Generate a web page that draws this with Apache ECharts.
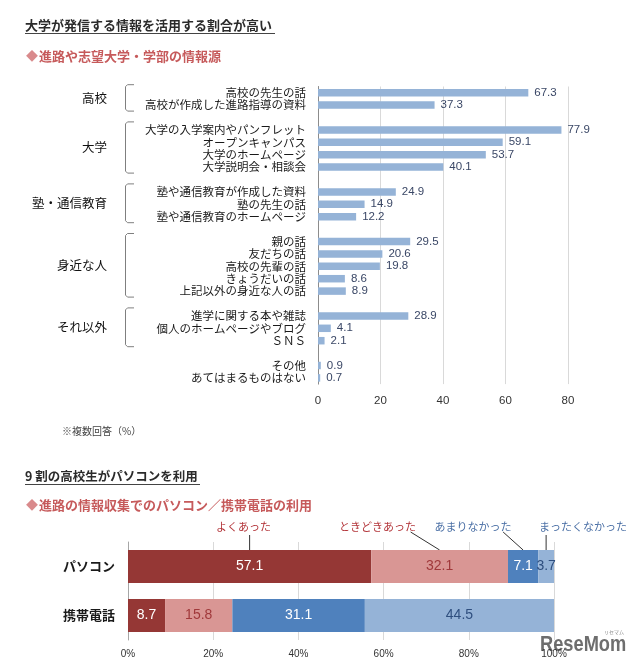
<!DOCTYPE html>
<html>
<head>
<meta charset="utf-8">
<script src="https://cdn.jsdelivr.net/npm/echarts@6/dist/echarts.min.js"></script>
<style>html,body{margin:0;padding:0;background:#fff;}#c{width:640px;height:669px;}</style>
</head>
<body>
<div id="c"></div>
<script>
// ---- Data: information sources (%) ----
const sourceCategories = ['高校の先生の話','高校が作成した進路指導の資料',' ',
  '大学の入学案内やパンフレット','オープンキャンパス','大学のホームページ','大学説明会・相談会','  ',
  '塾や通信教育が作成した資料','塾の先生の話','塾や通信教育のホームページ','   ',
  '親の話','友だちの話','高校の先輩の話','きょうだいの話','上記以外の身近な人の話','    ',
  '進学に関する本や雑誌','個人のホームページやブログ','ＳＮＳ','     ',
  'その他','あてはまるものはない'];
const sourceValues = [67.3,37.3,null,77.9,59.1,53.7,40.1,null,24.9,14.9,12.2,null,
  29.5,20.6,19.8,8.6,8.9,null,28.9,4.1,2.1,null,0.9,0.7];
const groupNames = ['高校','大学','塾・通信教育','身近な人','それ以外'];
const groupFirst = [0,3,8,12,18];
const groupLast = [1,6,10,16,20];
const sourceTicks = [0,20,40,60,80];

// ---- Data: PC / mobile usage (%) ----
const deviceCategories = ['パソコン','携帯電話'];
const usageNames = ['よくあった','ときどきあった','あまりなかった','まったくなかった'];
const usageOften = [57.1, 8.7];
const usageSometimes = [32.1, 15.8];
const usageRarely = [7.1, 31.1];
const usageNever = [3.7, 44.5];
const usageTicks = ['0%','20%','40%','60%','80%','100%'];

const JP = '"Noto Sans CJK JP", sans-serif';
const NUM = '"Liberation Sans", Arial, sans-serif';

const usageData = [usageOften, usageSometimes, usageRarely, usageNever];
const usageColors = ['#953735','#d99694','#4f81bd','#95b3d7'];
const usageLabelColors = ['#ffffff','#a0393b','#ffffff','#2f4f7f'];

const chart = echarts.init(document.getElementById('c'));

chart.setOption({
  animation: false,
  backgroundColor: '#fff',
  grid: [
    {left: 318, top: 86.5, width: 250, height: 297.6},
    {left: 128, top: 542, width: 426, height: 98}
  ],
  xAxis: [
    {gridIndex: 0, type: 'value', min: 0, max: 80, interval: 20,
      axisLine: {show: false}, axisTick: {show: false},
      splitLine: {lineStyle: {color: '#d9d9d9'}},
      axisLabel: {fontSize: 11.5, color: '#333', margin: 11, fontFamily: NUM,
        formatter: v => sourceTicks.indexOf(v) >= 0 ? String(v) : ''}},
    {gridIndex: 1, type: 'value', min: 0, max: 100, interval: 20,
      axisLine: {show: false}, axisTick: {show: false},
      splitLine: {lineStyle: {color: '#d9d9d9'}},
      axisLabel: {fontSize: 10, color: '#333', margin: 9, fontFamily: NUM,
        formatter: v => usageTicks[v / 20]}}
  ],
  yAxis: [
    {gridIndex: 0, type: 'category', data: sourceCategories, inverse: true,
      axisLine: {lineStyle: {color: '#8c8c8c'}}, axisTick: {show: false},
      axisLabel: {fontSize: 11.5, color: '#1a1a1a', margin: 12, fontFamily: JP, interval: 0}},
    {gridIndex: 1, type: 'category', data: deviceCategories, inverse: true,
      axisLine: {lineStyle: {color: '#a6a6a6'}}, axisTick: {show: false},
      axisLabel: {fontSize: 13, color: '#1a1a1a', margin: 13, fontFamily: JP, fontWeight: 'bold'}}
  ],
  series: [
    {type: 'bar', xAxisIndex: 0, yAxisIndex: 0, data: sourceValues, barWidth: 7.5,
      itemStyle: {color: '#95b3d7'},
      label: {show: true, position: 'right', distance: 6, fontSize: 11.5, color: '#3a4766', fontFamily: NUM,
        formatter: p => p.value == null ? '' : p.value.toFixed(1)}}
  ].concat(usageNames.map((n, i) => ({
    type: 'bar', name: n, stack: 'u', xAxisIndex: 1, yAxisIndex: 1, data: usageData[i], barWidth: 33,
    itemStyle: {color: usageColors[i]},
    label: {show: true, position: 'inside', fontSize: 14, color: usageLabelColors[i], fontFamily: NUM,
      formatter: p => p.value.toFixed(1)}
  })))
});

// ---- Decorations computed from the axes ----
const g = [];
function txt(x, y, s, o, extra) {
  g.push(Object.assign({type: 'text', x: x, y: y,
    style: Object.assign({text: s, fontFamily: JP, fontSize: 13, fill: '#222', textVerticalAlign: 'middle'}, o || {})}, extra || {}));
}
function line(x1, y1, x2, y2, c, w) {
  g.push({type: 'line', shape: {x1: x1, y1: y1, x2: x2, y2: y2}, style: {stroke: c || '#333', lineWidth: w || 1}});
}

// titles
txt(25, 25, '大学が発信する情報を活用する割合が高い', {fontWeight: 'bold', fill: '#2b2b2b'});
line(25, 33.5, 275, 33.5, '#444', 1);
txt(26, 56, '◆', {fill: '#d98a8c', fontSize: 12});
txt(39, 56, '進路や志望大学・学部の情報源', {fontWeight: 'bold', fill: '#c65a5b'});
txt(62, 431, '※複数回答（%）', {fontSize: 10, fill: '#444'});

txt(25, 476, '9 割の高校生がパソコンを利用', {fontWeight: 'bold', fill: '#2b2b2b', fontSize: 12.5});
line(25, 484.5, 200, 484.5, '#444', 1);
txt(26, 505, '◆', {fill: '#d98a8c', fontSize: 12});
txt(39, 505, '進路の情報収集でのパソコン／携帯電話の利用', {fontWeight: 'bold', fill: '#c65a5b'});

// group brackets and labels
groupNames.forEach((name, i) => {
  const y1 = chart.convertToPixel({yAxisIndex: 0}, sourceCategories[groupFirst[i]]);
  const y2 = chart.convertToPixel({yAxisIndex: 0}, sourceCategories[groupLast[i]]);
  const top = y1 - 8, bot = y2 + 6;
  g.push({type: 'polyline', shape: {points: [[134, top], [127.5, top], [125.5, top + 2], [125.5, bot - 2], [127.5, bot], [134, bot]]},
    style: {stroke: '#7f7f7f', lineWidth: 1, fill: null}});
  txt(107, (y1 + y2) / 2 - 1, name, {textAlign: 'right', fontSize: 12.5, fill: '#111'});
});

// series annotations for the PC bar
const annText = [-6, -62, -50, 37];
const annFrom = [0, 33, 30, 0];
const annColors = ['#b3353a', '#b3353a', '#4a6fa5', '#4a6fa5'];
let cum = 0;
usageNames.forEach((n, i) => {
  const v = usageData[i][0];
  const p = chart.convertToPixel({xAxisIndex: 1, yAxisIndex: 1}, [cum + v / 2, deviceCategories[0]]);
  cum += v;
  const barTop = p[1] - 16.5;
  const tx = p[0] + annText[i];
  txt(tx, 527, n, {textAlign: 'center', fontSize: 11, fill: annColors[i]});
  const sx = annFrom[i] === 0 ? p[0] : tx + annFrom[i];
  line(sx, annFrom[i] === 0 ? 535 : 532, p[0], barTop, '#333', 1);
});

// watermark
txt(540, 645, 'ReseMom', {fontFamily: NUM, fontWeight: 'bold', fontSize: 22, fill: '#6e6e6e'}, {scaleX: 0.83});
txt(604, 632, 'リセマム', {fontSize: 5, fill: '#888'});

chart.setOption({graphic: g});
</script>
</body>
</html>
